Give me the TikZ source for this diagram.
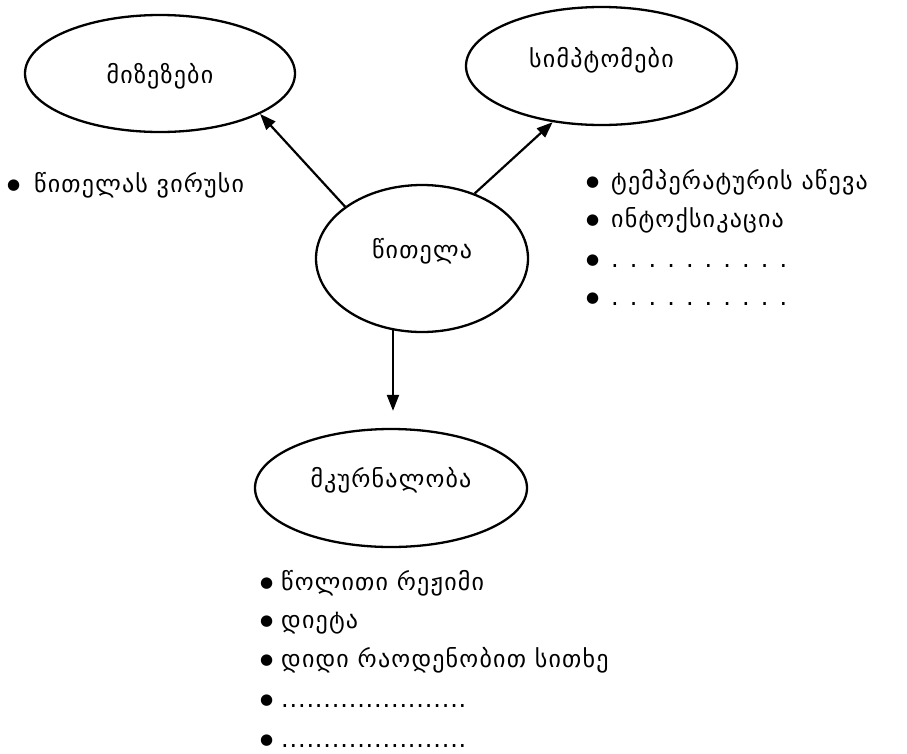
\documentclass[tikz,border=0pt]{standalone}
\usepackage{fontspec}
\setmainfont{DejaVu Sans}[LetterSpace=5]
\newfontfamily\bulfont{DejaVu Sans}
\usetikzlibrary{shapes.geometric,arrows.meta}
\newcommand\dotrow[2]{\foreach \i in {1,...,#1}{\makebox[#2][l]{.}}}
\newcommand\bul[1]{\makebox[#1][l]{\raisebox{2.5pt}{\bulfont\fontsize{15}{15}\selectfont ●}}}
\tikzset{
  oval/.style={draw, ellipse, line width=2.3pt, inner sep=0pt, text height=0pt, text depth=0pt, font=\fontsize{24}{28}\selectfont},
  item/.style={anchor=base west, inner sep=0pt, font=\fontsize{24}{28}\selectfont},
  arr/.style={line width=2.2pt, -{Triangle[length=16pt,width=12pt]}}
}
\begin{document}
\begin{tikzpicture}[x=1pt,y=-1pt]
\useasboundingbox (0,0) rectangle (907,753);
\node[oval, minimum width=270pt, minimum height=117pt] (a) at (160,73.5) {\raisebox{-9.5pt}{მიზეზები}};
\node[oval, minimum width=271pt, minimum height=118pt] (b) at (601.5,66) {\raisebox{-1pt}{სიმპტომები}};
\node[oval, minimum width=212pt, minimum height=147pt] (c) at (422,258.5) {წითელა};
\node[oval, minimum width=272pt, minimum height=118pt] (d) at (391,488) {\raisebox{1pt}{მკურნალობა}};
\draw[arr] (c.146) -- (a.338);
\draw[arr] (c.51) -- (b.229);
\draw[arr, shorten >=17pt] (c.248) -- (c.248 |- d.north);
\node[item] (l1) at (7,192) {\bul{27pt}წითელას ვირუსი};
\node[item] (r1) at (586,189) {\bul{25pt}ტემპერატურის აწევა};
\node[item] (r2) at (586,227) {\bul{25pt}ინტოქსიკაცია};
\node[item] (r3) at (586,267) {\bul{25pt}\dotrow{10}{18.7pt}};
\node[item] (r4) at (586,305) {\bul{25pt}\dotrow{10}{18.7pt}};
\node[item] (m1) at (260,590) {\bul{21pt}წოლითი რეჟიმი};
\node[item] (m2) at (260,628) {\bul{21pt}დიეტა};
\node[item] (m3) at (260,667) {\bul{21pt}დიდი რაოდენობით სითხე};
\node[item] (m4) at (260,707) {\bul{21pt}\dotrow{22}{8.45pt}};
\node[item] (m5) at (260,747) {\bul{21pt}\dotrow{22}{8.45pt}};
\end{tikzpicture}
\end{document}
